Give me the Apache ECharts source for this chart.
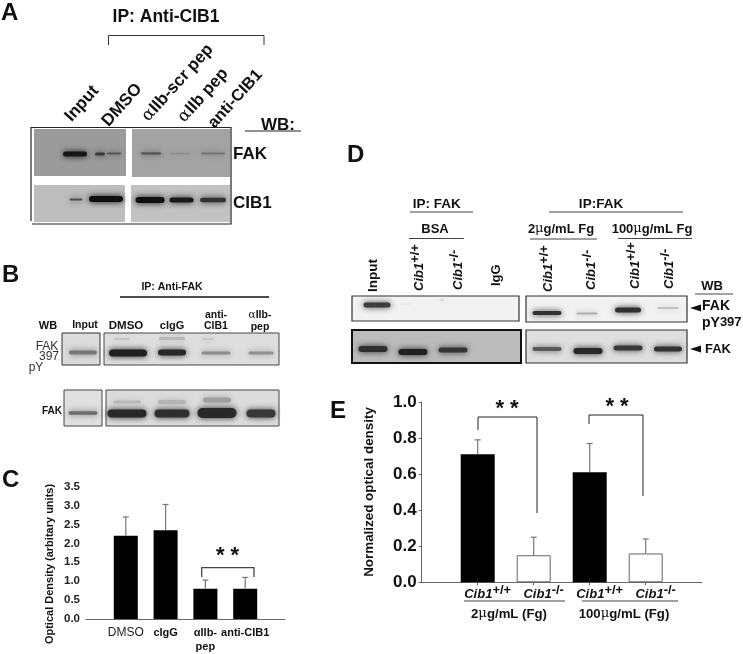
<!DOCTYPE html>
<html><head><meta charset="utf-8">
<style>html,body{margin:0;padding:0;background:#fff}#c{width:743px;height:654px}</style>
<script src="https://cdn.jsdelivr.net/npm/echarts@6/dist/echarts.min.js"></script></head>
<body><div id="c"></div>
<script>
// ---- Panel C data
const categoriesC = ['', 'DMSO', 'cIgG', 'αIIb-\npep', 'anti-CIB1', ''];
const meansC = [null, 2.2, 2.35, 0.8, 0.8, null];
const uppersC = [null, 2.7, 3.03, 1.03, 1.1, null];
const ticksMaxC = 3.5;
// ---- Panel E data
const categoriesE = ['', 'Cib1+/+ a', 'Cib1-/- a', 'Cib1+/+ b', 'Cib1-/- b', ''];
const meansE = [null, 0.71, 0.15, 0.61, 0.16, null];
const uppersE = [null, 0.79, 0.25, 0.77, 0.24, null];
const ticksMaxE = 1.0;
// ---- Band intensities read from the blots (0 = none, 1 = black)
const bandsAFakL = [0.95, 0.7, 0.5];
const bandsAFakR = [0.5, 0.15, 0.33];
const bandsACibL = [0.65, 1];
const bandsACibR = [1, 0.95, 0.8];
const bandsB1L = [0.5];
const bandsB1R = [0.92, 0.88, 0.4, 0.38, 0.12, 0.18, 0.12];
const bandsB2L = [0.55];
const bandsB2R = [0.88, 0.85, 0.88, 0.8, 0.18, 0.2, 0.3];
const bandsD1L = [0.8, 0.05, 0.1];
const bandsD1R = [0.85, 0.3, 0.85, 0.22];
const bandsD2L = [0.82, 0.9, 0.78];
const bandsD2R = [0.65, 0.88, 0.8, 0.82];

const FONT = '"Liberation Sans", Arial, sans-serif';
const g = [];
function t(text, x, y, size, o) {
  o = o || {};
  g.push({ type: 'text', x, y, rotation: o.rot || 0, silent: true, z: 20,
    style: Object.assign({ text, font: (o.weight || 'bold') + ' ' + size + 'px ' + FONT,
      fill: o.fill || '#111', align: o.align || 'center', verticalAlign: o.va || 'middle',
      textAlign: o.align || 'center', textVerticalAlign: o.va || 'middle' }, o.rich ? { rich: o.rich } : {}) });
}
function line(pts, w, col) {
  g.push({ type: 'polyline', silent: true, z: 15, shape: { points: pts },
    style: { stroke: col || '#222', lineWidth: w || 1, fill: null } });
}
function blot(x, y, w, h, fill, bg, vals, lanes, stroke, lw) {
  g.push({ type: 'rect', silent: true, z: 5, shape: { x, y, width: w, height: h },
    style: { fill, stroke: stroke || null, lineWidth: lw || 0 } });
  lanes.forEach((l, i) => {
    const v = vals[i], c = Math.round(bg * (1 - v) + 15 * v);
    const col = 'rgb(' + c + ',' + c + ',' + c + ')';
    g.push({ type: 'rect', silent: true, z: 6, shape: { x: l[0] - l[2] / 2, y: l[1] - l[3] / 2, width: l[2], height: l[3], r: l[3] / 2 },
      style: { fill: col, shadowBlur: 6, shadowColor: col } });
  });
}
function tri(x1, x2, y) {
  g.push({ type: 'polygon', silent: true, z: 15, shape: { points: [[x1, y], [x2, y - 3.5], [x2, y + 3.5]] }, style: { fill: '#111' } });
}
function supRich(size) {
  return {
    b: { font: 'bold italic ' + size + 'px ' + FONT, fill: '#111', lineHeight: size + 4, verticalAlign: 'bottom' },
    s: { font: 'bold ' + size + 'px ' + FONT, fill: '#111', lineHeight: size, verticalAlign: 'top' }
  };
}
const sup = supRich(13);

// ---- Panel A
t('A', 1, 13, 24, { align: 'left' });
t('IP: Anti-CIB1', 166, 17, 17.5);
line([[108.5, 45], [108.5, 35.5], [264, 35.5], [264, 45]], 1, '#333');
const arich = { a: { font: '17px "DejaVu Serif", serif', fill: '#111' }, b: { font: 'bold 17px ' + FONT, fill: '#111' } };
const r48 = 48 * Math.PI / 180;
t('Input', 68, 119, 17, { align: 'left', rot: r48 });
t('DMSO', 105, 124, 17, { align: 'left', rot: r48 });
t('{a|α}{b|IIb-scr pep}', 145, 119, 16.5, { align: 'left', rot: r48, rich: arich });
t('{a|α}{b|IIb pep}', 181, 120, 16.5, { align: 'left', rot: r48, rich: arich });
t('anti-CIB1', 211, 126, 16.5, { align: 'left', rot: r48 });
t('WB:', 278, 125, 17);
line([[245, 131], [301, 131]], 1, '#222');
line([[31, 221], [31, 127.5], [231, 127.5], [231, 224], [32, 224]], 1.2, '#222');
blot(34, 129, 92, 47, '#9b9b9b', 155, bandsAFakL, [[75, 154, 24, 5], [100, 154, 10, 3], [114, 153.5, 14, 2]]);
blot(132, 129, 98, 48, '#a3a3a3', 163, bandsAFakR, [[151, 153.5, 20, 2.5], [180, 153.5, 20, 1.5], [213, 153.5, 24, 2]]);
blot(34, 185, 91, 37, '#bdbdbd', 189, bandsACibL, [[76, 199.5, 13, 2], [106, 199, 34, 6]]);
blot(131, 185, 99, 37, '#c2c2c2', 194, bandsACibR, [[150, 200, 29, 6], [181.5, 200, 24, 5], [213, 200, 26, 4.5]]);
t('FAK', 233, 154, 17, { align: 'left' });
t('CIB1', 233, 203, 17, { align: 'left' });

// ---- Panel B
t('B', 2, 275, 24, { align: 'left' });
t('IP: Anti-FAK', 172, 287, 10.5);
line([[120, 297], [269, 297]], 1.6, '#111');
t('WB', 48, 326, 11);
t('Input', 85, 325.5, 10.5);
t('DMSO', 126, 325.5, 11.5);
t('cIgG', 172, 326, 11);
t('anti-\nCIB1', 216, 321, 10.5);
t('{a|α}{b|IIb-}\n{b|pep}', 260, 321, 10.5, { rich: { a: { font: '10.5px "DejaVu Serif", serif', fill: '#111' }, b: { font: 'bold 10.5px ' + FONT, fill: '#111', lineHeight: 12 } } });
blot(62, 333, 38, 32, '#dcdcdc', 220, bandsB1L, [[83, 352.5, 28, 4]], '#333', 1);
blot(104, 333, 175, 32, '#dedede', 222, bandsB1R, [
  [128, 353, 38, 7], [172, 352.5, 28, 6], [216, 353, 29, 3], [261, 353, 25, 3],
  [122, 339, 16, 2], [172, 338.5, 26, 3], [208, 339, 12, 2]], '#444', 1);
t('FAK', 47, 347, 12, { weight: 'normal', fill: '#333' });
t('397', 49, 356.5, 12, { weight: 'normal', fill: '#333' });
t('pY', 36, 368, 12, { weight: 'normal', fill: '#333' });
blot(64, 390, 38, 36, '#e0e0e0', 224, bandsB2L, [[83, 413, 29, 3.5]], '#444', 1);
blot(106, 390, 173, 36, '#dcdcdc', 220, bandsB2R, [
  [127, 413.5, 39, 8], [172, 413.5, 35, 8], [217, 413, 39, 10], [261, 413.5, 29, 8],
  [127, 402, 28, 3], [172, 402, 28, 4], [217, 400, 28, 5]], '#444', 1);
t('FAK', 52, 411, 10);

// ---- Panel C annotations
t('C', 2, 480, 24, { align: 'left' });
t('Optical Density (arbitary units)', 50, 564, 11, { rot: Math.PI / 2 });
line([[201.7, 577], [201.7, 567.7], [254, 567.7], [254, 577]], 1.3, '#444');
t('* *', 227.5, 556, 22);

// ---- Panel D
t('D', 347, 155, 24, { align: 'left' });
t('IP: FAK', 436.7, 204, 13.5);
line([[410, 212], [473, 212]], 1, '#444');
t('BSA', 435, 229, 13);
line([[409, 238.5], [464, 238.5]], 1, '#444');
t('IP:FAK', 601, 204, 13.5);
line([[549, 212], [683, 212]], 1, '#444');
const mu = { a: { font: '13px "DejaVu Serif", serif', fill: '#111' }, b: { font: 'bold 13px ' + FONT, fill: '#111' } };
t('{b|2}{a|μ}{b|g/mL Fg}', 561, 229, 13, { rich: mu });
line([[530, 239], [597, 239]], 1, '#444');
t('{b|100}{a|μ}{b|g/mL Fg}', 652, 229, 13, { rich: mu });
line([[618, 238.5], [692, 238.5]], 1, '#444');
const vert = Math.PI / 2;
const wt = '{b|Cib1}{s|+/+}', ko = '{b|Cib1}{s|-/-}';
t('Input', 373, 292, 13.5, { align: 'left', rot: vert });
t(wt, 417, 291, 13, { align: 'left', rot: vert, rich: sup });
t(ko, 456, 290, 13, { align: 'left', rot: vert, rich: sup });
t('IgG', 496, 286, 13, { align: 'left', rot: vert });
t(wt, 546, 292, 13, { align: 'left', rot: vert, rich: sup });
t(ko, 589, 290, 13, { align: 'left', rot: vert, rich: sup });
t(wt, 633, 289, 13, { align: 'left', rot: vert, rich: sup });
t(ko, 667, 289, 13, { align: 'left', rot: vert, rich: sup });
t('WB', 712, 286, 13);
line([[695, 294], [733, 294]], 1, '#444');
blot(352, 296, 167, 25, '#f2f2f2', 242, bandsD1L, [[377, 305, 27, 5], [406, 304, 10, 1.5], [442, 300, 5, 2]], '#333', 1.2);
blot(526, 296, 161, 26, '#f2f2f2', 242, bandsD1R, [[547, 313, 29, 4], [587, 313.5, 21, 2], [628, 310, 26, 5], [668, 308, 21, 2]], '#333', 1.2);
blot(352, 330, 169, 33, '#bcbcbc', 188, bandsD2L, [[373, 349, 29, 6], [413, 352, 29, 6], [453, 350, 29, 5]], '#111', 2);
blot(526, 330, 161, 33, '#dfdfdf', 223, bandsD2R, [[547, 349, 29, 4], [588, 351, 29, 6], [628, 348, 29, 5], [668, 349, 28, 5]], '#333', 1.2);
tri(690, 701, 308);
t('FAK', 702, 306, 14, { align: 'left' });
t('pY{s|397}', 702, 323, 14, { align: 'left', rich: {
  s: { font: 'bold 13px ' + FONT, fill: '#111', lineHeight: 13, verticalAlign: 'top' } } });
tri(690, 701, 349);
t('FAK', 705, 349, 13, { align: 'left' });

// ---- Panel E annotations
t('E', 330, 411, 24, { align: 'left' });
t('Normalized optical density', 369, 492, 13.4, { rot: Math.PI / 2 });
line([[478, 430], [478, 417], [537, 417], [537, 513]], 1, '#222');
t('* *', 507, 409, 22);
line([[589, 424], [589, 415], [643, 415], [643, 496]], 1, '#222');
t('* *', 617, 407, 22);
line([[464, 601], [565, 601]], 1, '#444');
line([[582, 601], [678, 601]], 1, '#444');
const muE = { a: { font: '13.2px "DejaVu Serif", serif', fill: '#111' }, b: { font: 'bold 13.2px ' + FONT, fill: '#111' } };
t('{b|2}{a|μ}{b|g/mL (Fg)}', 509, 614, 13, { rich: muE });
t('{b|100}{a|μ}{b|g/mL (Fg)}', 624, 614, 13, { rich: muE });

function errSeries(xi, yi, means, uppers, col) {
  return { type: 'custom', xAxisIndex: xi, yAxisIndex: yi, z: 3, silent: true,
    data: means.map((m, i) => [i, m, uppers[i]]).filter(d => d[1] != null),
    encode: { x: 0, y: [1, 2] },
    renderItem(p, api) {
      const a = api.coord([api.value(0), api.value(1)]), b = api.coord([api.value(0), api.value(2)]);
      return { type: 'group', children: [
        { type: 'line', shape: { x1: a[0], y1: a[1], x2: b[0], y2: b[1] }, style: { stroke: col, lineWidth: 1.2 } },
        { type: 'line', shape: { x1: b[0] - 3, y1: b[1], x2: b[0] + 3, y2: b[1] }, style: { stroke: col, lineWidth: 1.2 } }
      ] };
    } };
}

const chart = echarts.init(document.getElementById('c'));
chart.setOption({
  animation: false, backgroundColor: '#fff',
  grid: [
    { left: 86, width: 199, top: 486.7, height: 138 },
    { left: 421.7, width: 280, top: 402, height: 180.3 }
  ],
  xAxis: [
    { type: 'category', gridIndex: 0, boundaryGap: false, data: categoriesC,
      axisLine: { lineStyle: { color: '#666' } }, axisTick: { show: false },
      axisLabel: { interval: 0, margin: 7, lineHeight: 14, color: '#111', fontFamily: FONT, fontSize: 11, fontWeight: 'bold',
        formatter: v => v === 'DMSO' ? '{r|DMSO}' : v, rich: { r: { fontSize: 12, fontWeight: 'normal', color: '#222', fontFamily: FONT } } } },
    { type: 'category', gridIndex: 1, boundaryGap: false, data: categoriesE,
      axisLine: { lineStyle: { color: '#666' } }, axisTick: { show: true, length: 3, customValues: [1, 2, 3, 4], lineStyle: { color: '#666' } },
      axisLabel: { interval: 0, margin: 2, color: '#111', fontFamily: FONT,
        formatter: v => {
          if (!v) return '';
          const parts = v.split(' ');
          return '{b|Cib1}{s|' + parts[0].slice(4) + '}';
        },
        rich: { b: { fontSize: 13, fontWeight: 'bold', fontStyle: 'italic', fontFamily: FONT, color: '#111', padding: [0, 0, 0, 20], lineHeight: 17, verticalAlign: 'bottom' },
                s: { fontSize: 13, fontWeight: 'bold', fontFamily: FONT, color: '#111', lineHeight: 13, verticalAlign: 'top' } } } }
  ],
  yAxis: [
    { type: 'value', gridIndex: 0, min: 0, max: ticksMaxC, interval: 0.5, splitLine: { show: false },
      axisLine: { show: false }, axisTick: { show: false },
      axisLabel: { margin: 6, color: '#222', fontFamily: FONT, fontSize: 11.5, fontWeight: 'bold', formatter: v => v.toFixed(1) } },
    { type: 'value', gridIndex: 1, min: 0, max: ticksMaxE, interval: 0.2, splitLine: { show: false },
      axisLine: { show: true, lineStyle: { color: '#666' } }, axisTick: { show: true, length: 3, lineStyle: { color: '#666' } },
      axisLabel: { margin: 5, color: '#111', fontFamily: FONT, fontSize: 17, fontWeight: 'bold', formatter: v => v.toFixed(1) } }
  ],
  series: [
    { type: 'bar', xAxisIndex: 0, yAxisIndex: 0, barWidth: 24, data: meansC, itemStyle: { color: '#000' }, silent: true },
    errSeries(0, 0, meansC, uppersC, '#777'),
    { type: 'bar', xAxisIndex: 1, yAxisIndex: 1, barWidth: 34, silent: true,
      data: meansE.map((m, i) => (m == null ? null : { value: m, itemStyle: (i % 2) ? { color: '#000' } : { color: '#fff', borderColor: '#666', borderWidth: 1 } })) },
    errSeries(1, 1, meansE, uppersE, '#777')
  ],
  graphic: g
});
</script></body></html>
